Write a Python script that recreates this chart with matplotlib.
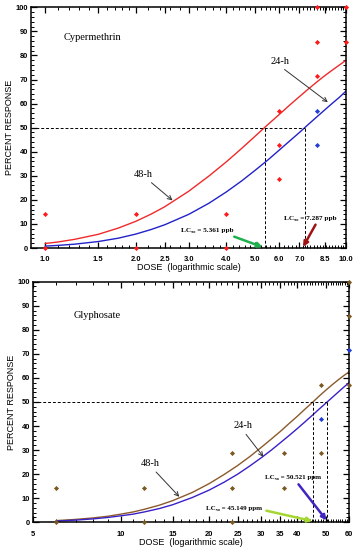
import matplotlib
matplotlib.use('Agg')
import matplotlib.pyplot as plt
import numpy as np

plt.rcParams.update({
    'font.family': ['Liberation Sans', 'DejaVu Sans'],
    'axes.linewidth': 1.1,
    'xtick.direction': 'in',
    'ytick.direction': 'in',
    'xtick.top': True,
    'ytick.right': True,
    'xtick.major.size': 4,
    'ytick.major.size': 4,
    'xtick.minor.size': 2,
    'ytick.minor.size': 2,
    'xtick.major.width': 0.9,
    'ytick.major.width': 0.9,
    'xtick.minor.width': 0.7,
    'ytick.minor.width': 0.7,
})

# ---- Cypermethrin (ppb) ----
cyp_obs48_dose = [1, 1, 2, 2, 4, 4, 6, 6, 6, 8, 8, 8, 10, 10]
cyp_obs48_resp = [14.3, 0, 14.3, 0, 14.3, 0, 57.1, 42.9, 28.6, 100, 85.7, 71.4, 100, 85.7]
cyp_obs24_dose = [8, 8]
cyp_obs24_resp = [57.1, 42.9]
cyp_fit_dose = [1, 1.1, 1.25, 1.5, 1.75, 2, 2.25, 2.5, 3, 3.5, 4, 4.5, 5, 5.5,
                6, 6.5, 7, 7.5, 8, 8.5, 9, 9.5, 10]
cyp_fit48 = [1.9, 2.5, 3.6, 5.7, 8.3, 11.1, 14.1, 17.2, 23.6, 29.9, 35.8, 41.4, 46.6, 51.3,
             55.5, 59.4, 62.9, 66.1, 69.0, 71.6, 73.9, 76.0, 78.0]
cyp_fit24 = [0.8, 1.1, 1.6, 2.7, 4.1, 5.8, 7.7, 9.7, 14.0, 18.6, 23.3, 27.9, 32.4, 36.6,
             40.7, 44.5, 48.0, 51.4, 54.5, 57.4, 60.1, 62.6, 65.2]
cyp_lc48 = 5.361
cyp_lc24 = 7.287
cyp_ticks = [1.0, 1.5, 2.0, 2.5, 3.0, 4.0, 5.0, 6.0, 7.0, 8.5, 10.0]
cyp_tick_labels = ['1.0', '1.5', '2.0', '2.5', '3.0', '4.0', '5.0', '6.0', '7.0', '8.5', '10.0']

# ---- Glyphosate (ppm) ----
gly_obs48_dose = [6, 6, 12, 12, 24, 24, 24, 36, 36, 48, 48, 60, 60, 60]
gly_obs48_resp = [14.3, 0, 14.3, 0, 28.6, 14.3, 0, 28.6, 14.3, 57.1, 28.6, 100, 85.7, 57.1]
gly_obs24_dose = [48, 60]
gly_obs24_resp = [42.9, 71.4]
gly_fit_dose = [6, 7, 8, 9, 10, 11, 12, 13.5, 15, 17.5, 20, 22.5, 25, 27.5, 30, 32.5,
                35, 37.5, 40, 42.5, 45, 47.5, 50, 52.5, 55, 57.5, 60]
gly_fit48 = [0.7, 1.2, 1.8, 2.5, 3.4, 4.3, 5.4, 7.1, 9.0, 12.4, 16.1, 19.9, 23.6, 27.3,
             31.0, 34.5, 37.8, 41.1, 44.1, 47.1, 49.8, 52.5, 54.9, 57.1, 59.1, 60.9, 62.5]
gly_fit24 = [0.5, 0.9, 1.4, 2.0, 2.7, 3.4, 4.3, 5.7, 7.3, 10.3, 13.4, 16.7, 20.0, 23.4,
             26.7, 29.9, 33.1, 36.1, 39.0, 41.8, 44.5, 47.1, 49.5, 51.8, 54.0, 56.1, 58.0]
gly_lc48 = 45.149
gly_lc24 = 50.521
gly_ticks = [5, 10, 15, 20, 25, 30, 35, 40, 50, 60]
gly_tick_labels = ['5', '10', '15', '20', '25', '30', '35', '40', '50', '60']

serif = ['Liberation Serif', 'DejaVu Serif']

fig = plt.figure(figsize=(3.58, 5.5), dpi=100)
ax1 = fig.add_axes([0.0866, 0.549, 0.8799, 0.4377])
ax2 = fig.add_axes([0.0922, 0.0504, 0.8827, 0.4375])


def style_axes(ax, xlim, ticks, labels, minor):
    ax.set_xscale('log')
    ax.set_xlim(*xlim)
    ax.set_ylim(0, 100)
    ax.set_xticks(ticks)
    ax.set_xticklabels(labels)
    ax.set_xticks(minor, minor=True)
    ax.xaxis.set_minor_formatter(matplotlib.ticker.NullFormatter())
    ax.set_yticks(range(0, 101, 10))
    ax.set_yticks(range(0, 101, 2), minor=True)
    for lab in ax.get_xticklabels() + ax.get_yticklabels():
        lab.set_fontsize(5.4)
        lab.set_fontweight('bold')
    ax.tick_params(axis='x', pad=6)
    ax.tick_params(axis='y', pad=2)
    ax.set_xlabel('DOSE  (logarithmic scale)', fontsize=6.5, labelpad=0)
    ax.set_ylabel('PERCENT RESPONSE', fontsize=6.5, labelpad=1)


cyp_minor = list(np.arange(1.0, 2.0, 0.1)) + list(np.arange(2.0, 10.01, 0.2))
style_axes(ax1, (0.897, 10), cyp_ticks, cyp_tick_labels, cyp_minor)

ax1.plot(cyp_fit_dose, cyp_fit48, color='#f02a2a', lw=1.0)
ax1.plot(cyp_fit_dose, cyp_fit24, color='#2222c8', lw=1.0)
ax1.plot(cyp_obs48_dose, cyp_obs48_resp, 'D', color='#ff1a1a', ms=2.6, mew=0, clip_on=False, zorder=5)
ax1.plot(cyp_obs24_dose, cyp_obs24_resp, 'D', color='#1f3fd8', ms=2.6, mew=0, clip_on=False, zorder=5)

dash = dict(color='black', lw=0.7, ls=(0, (3, 2)))
ax1.plot([0.897, cyp_lc24], [50, 50], **dash)
ax1.plot([cyp_lc48, cyp_lc48], [0, 50], **dash)
ax1.plot([cyp_lc24, cyp_lc24], [0, 50], **dash)

ax1.text(1.15, 86.5, 'Cypermethrin', fontsize=7.5, family=serif)
ax1.annotate('48-h', xy=(2.65, 19.8), xytext=(1.97, 29.5), fontsize=7.5, family=serif,
             arrowprops=dict(arrowstyle='->', color='#333333', lw=0.7,
                             relpos=(0.7, 0), shrinkA=1, shrinkB=0))
ax1.annotate('24-h', xy=(8.7, 60.6), xytext=(5.6, 76.5), fontsize=7.5, family=serif,
             arrowprops=dict(arrowstyle='->', color='#333333', lw=0.7,
                             relpos=(0.5, 0), shrinkA=1, shrinkB=0))
ax1.annotate('LC\u2085\u2080 = 5.361 ppb', xy=(5.28, 0.4), xytext=(2.82, 6.5),
             fontsize=5.2, fontweight='bold', family=serif,
             arrowprops=dict(arrowstyle='-|>', color='#1fb04f', lw=1.8,
                             mutation_scale=7, shrinkA=1, shrinkB=0,
                             relpos=(0.85, 0)))
ax1.annotate('LC\u2085\u2080 = 7.287 ppb', xy=(7.2, 0.5), xytext=(6.2, 11.8),
             fontsize=5.2, fontweight='bold', family=serif,
             arrowprops=dict(arrowstyle='-|>', color='#a01212', lw=1.8,
                             mutation_scale=7, shrinkA=1, shrinkB=0,
                             relpos=(0.65, 0)))

gly_minor = list(range(5, 61, 1))
style_axes(ax2, (5, 60), gly_ticks, gly_tick_labels, gly_minor)

ax2.plot(gly_fit_dose, gly_fit48, color='#8b5a2b', lw=1.0)
ax2.plot(gly_fit_dose, gly_fit24, color='#3a20c8', lw=1.0)
ax2.plot(gly_obs48_dose, gly_obs48_resp, 'D', color='#7a5a22', ms=2.6, mew=0, clip_on=False, zorder=5)
ax2.plot(gly_obs24_dose, gly_obs24_resp, 'D', color='#1f3fd8', ms=2.6, mew=0, clip_on=False, zorder=5)

ax2.plot([5, gly_lc24], [50, 50], **dash)
ax2.plot([gly_lc48, gly_lc48], [0, 50], **dash)
ax2.plot([gly_lc24, gly_lc24], [0, 50], **dash)

ax2.text(6.9, 85, 'Glyphosate', fontsize=7.5, family=serif)
ax2.annotate('48-h', xy=(15.8, 10.6), xytext=(11.7, 23.3), fontsize=7.5, family=serif,
             arrowprops=dict(arrowstyle='->', color='#333333', lw=0.7,
                             relpos=(0.6, 0), shrinkA=1, shrinkB=0))
ax2.annotate('24-h', xy=(30.6, 27.2), xytext=(24.2, 39), fontsize=7.5, family=serif,
             arrowprops=dict(arrowstyle='->', color='#333333', lw=0.7,
                             relpos=(0.5, 0), shrinkA=1, shrinkB=0))
ax2.annotate('LC\u2085\u2080 = 50.521 ppm', xy=(50.3, 0.8), xytext=(30.9, 17.8),
             fontsize=5.0, fontweight='bold', family=serif,
             arrowprops=dict(arrowstyle='-|>', color='#4424c0', lw=1.8,
                             mutation_scale=7, shrinkA=1, shrinkB=0,
                             relpos=(0.55, 0)))
ax2.annotate('LC\u2085\u2080 = 45.149 ppm', xy=(45.0, 0.5), xytext=(19.5, 5.0),
             fontsize=5.0, fontweight='bold', family=serif,
             arrowprops=dict(arrowstyle='-|>', color='#a6d632', lw=1.8,
                             mutation_scale=7, shrinkA=1, shrinkB=0,
                             relpos=(1, 0.3)))

plt.savefig('out.png', dpi=100)
plt.close()
